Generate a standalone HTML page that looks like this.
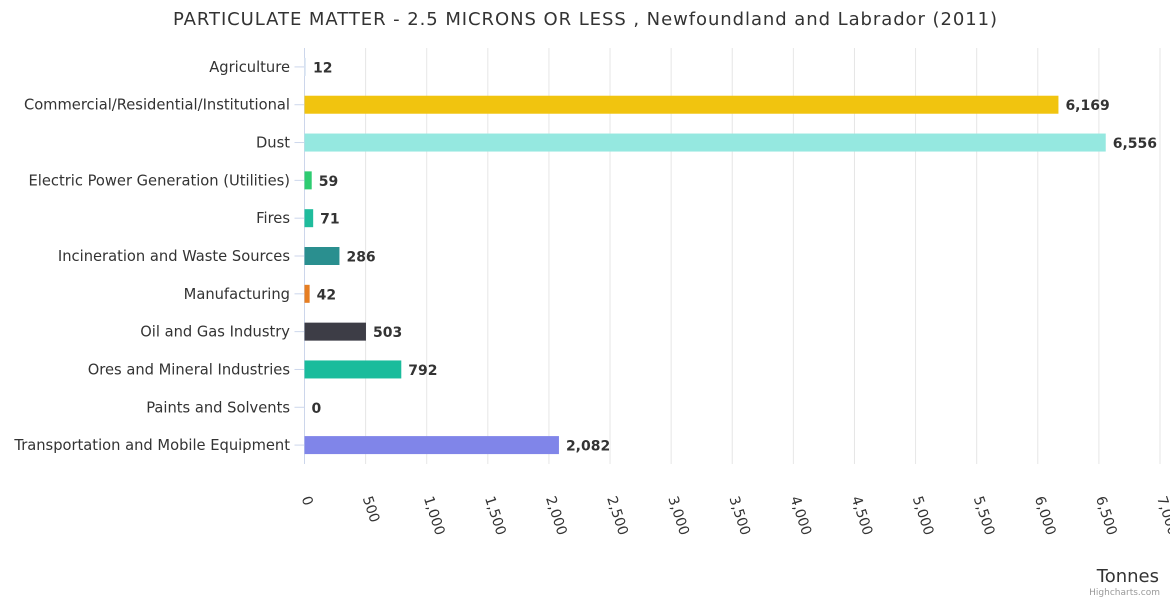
<!DOCTYPE html>
<html><head><meta charset="utf-8"><style>
body{margin:0;background:#fff;font-family:"DejaVu Sans","Liberation Sans",sans-serif}
svg text{font-family:"DejaVu Sans","Liberation Sans",sans-serif}
</style></head><body>
<svg id="c" width="1170" height="600" xmlns="http://www.w3.org/2000/svg">
<text x="173" y="25" font-size="18" textLength="824" lengthAdjust="spacing" fill="#333">PARTICULATE MATTER - 2.5 MICRONS OR LESS , Newfoundland and Labrador (2011)</text>
<g id="grid"></g><g id="bars"></g><g id="ylab"></g><g id="xlab"></g>
<text x="1159" y="582" text-anchor="end" font-size="18" fill="#333">Tonnes</text>
<text x="1160" y="595" text-anchor="end" font-size="9" fill="#999">Highcharts.com</text>
</svg>
<script>
const categories=["Agriculture","Commercial/Residential/Institutional","Dust","Electric Power Generation (Utilities)","Fires","Incineration and Waste Sources","Manufacturing","Oil and Gas Industry","Ores and Mineral Industries","Paints and Solvents","Transportation and Mobile Equipment"];
const values=[12,6169,6556,59,71,286,42,503,792,0,2082];
const colors=["#dfe9f5","#f1c40f","#95e8e0","#2ecc71","#1fbc9c","#2a8f8f","#e67e22","#3d3d46","#1abc9c","#8085e9","#8085e9"];
const ticks=[0,500,1000,1500,2000,2500,3000,3500,4000,4500,5000,5500,6000,6500,7000];
const NS="http://www.w3.org/2000/svg";
const X0=304.5,X1=1160,TOP=48,BOT=464;
const xs=v=>X0+(X1-X0)*v/7000;
const step=(BOT-TOP)/categories.length;
const yc=i=>TOP+step*(i+0.5);
const fmt=v=>v.toLocaleString("en-US");
function mk(t,a,p){const e=document.createElementNS(NS,t);for(const k in a)e.setAttribute(k,a[k]);document.getElementById(p).appendChild(e);return e;}
ticks.forEach(t=>{
 const g=mk("line",{x1:xs(t),x2:xs(t),y1:TOP,y2:BOT,stroke:t===0?"#ccd6eb":"#e6e6e6","stroke-width":1},"grid");
 
 
 const tx=mk("text",{x:xs(t)-3,y:498,"font-size":14,fill:"#333",transform:`rotate(72 ${xs(t)-3} 498)`},"xlab");
 tx.textContent=fmt(t);
 
 
});
categories.forEach((c,i)=>{
 const y=yc(i);
 const tk=mk("line",{x1:X0-10,x2:X0,y1:y,y2:y,stroke:"#ccd6eb"},"grid");
 
 
 const l=mk("text",{x:290,y:y+5,"text-anchor":"end","font-size":14.7,fill:"#333"},"ylab");
 l.textContent=c;
 
 
 const w=Math.max(xs(values[i])-X0,0);
 const r=mk("rect",{x:X0,y:y-9,width:w,height:18,fill:colors[i]},"bars");
 
 
 const v=mk("text",{x:X0+w+7,y:y+5.5,"font-size":14,"font-weight":"bold",fill:"#333"},"bars");
 v.textContent=fmt(values[i]);
 
 
});
</script>
</body></html>
